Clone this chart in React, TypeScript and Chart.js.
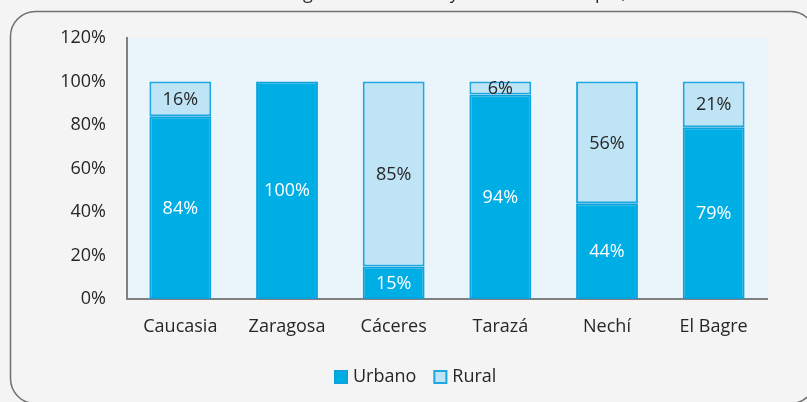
import React, { useEffect, useRef } from "react";
import { Chart, registerables } from "chart.js";

Chart.register(...registerables);

const categories = ["Caucasia", "Zaragosa", "Cáceres", "Tarazá", "Nechí", "El Bagre"];
const urbano = [84, 100, 15, 94, 44, 79];
const rural: (number | null)[] = [16, null, 85, 6, 56, 21];
const seriesNames = ["Urbano", "Rural"];
const yMin = 0;
const yMax = 120;
const yStep = 20;
const titleText = "Habitantes según zona urbana y rural del municipio, 2020";

const FONT = "'Open Sans', 'Noto Sans', sans-serif";
const URB_FILL = "#00aee6";
const URB_BORDER = "#0ea2dc";
const RUR_FILL = "#bee4f6";
const RUR_BORDER = "#1ea8e2";
const TEXT = "#262626";

const backgroundPlugin = {
  id: "bgBox",
  beforeDraw(chart: any) {
    const { ctx, width, height, chartArea } = chart;
    ctx.save();
    ctx.fillStyle = "#f4f4f4";
    ctx.fillRect(0, 0, width, height);
    // rounded frame
    const x = 10.5, y = 11.5, w = 805, h = 392, r = 25;
    ctx.beginPath();
    ctx.moveTo(x + r, y);
    ctx.lineTo(x + w - r, y);
    ctx.arcTo(x + w, y, x + w, y + r, r);
    ctx.lineTo(x + w, y + h - r);
    ctx.arcTo(x + w, y + h, x + w - r, y + h, r);
    ctx.lineTo(x + r, y + h);
    ctx.arcTo(x, y + h, x, y + h - r, r);
    ctx.lineTo(x, y + r);
    ctx.arcTo(x, y, x + r, y, r);
    ctx.closePath();
    ctx.strokeStyle = "#6f6f6f";
    ctx.lineWidth = 1.5;
    ctx.stroke();
    // title (clipped at top edge)
    ctx.font = `18px ${FONT}`;
    ctx.fillStyle = TEXT;
    ctx.textAlign = "left";
    ctx.textBaseline = "alphabetic";
    const gi = titleText.indexOf("g");
    const pre = ctx.measureText(titleText.slice(0, gi)).width;
    ctx.fillText(titleText, 303 - pre, -1.5);
    // plot background
    ctx.fillStyle = "#eaf4fb";
    ctx.fillRect(chartArea.left, chartArea.top, chartArea.right - chartArea.left + 1, chartArea.bottom - chartArea.top);
    ctx.restore();
  },
};

const labelPlugin = {
  id: "segLabels",
  afterDatasetsDraw(chart: any) {
    const { ctx } = chart;
    ctx.save();
    ctx.font = `18px ${FONT}`;
    ctx.textAlign = "center";
    ctx.textBaseline = "middle";
    chart.data.datasets.forEach((ds: any, di: number) => {
      const meta = chart.getDatasetMeta(di);
      meta.data.forEach((el: any, i: number) => {
        const v = ds.data[i];
        if (v === null || v === undefined || v === 0) return;
        ctx.fillStyle = di === 0 ? "#ffffff" : TEXT;
        ctx.fillText(`${v}%`, el.x, (el.y + el.base) / 2 + 1);
      });
    });
    ctx.restore();
  },
};

const legendPlugin = {
  id: "customLegend",
  afterDraw(chart: any) {
    const { ctx } = chart;
    ctx.save();
    ctx.font = `18px ${FONT}`;
    ctx.textAlign = "left";
    ctx.textBaseline = "middle";
    let x = 334;
    const cy = 377;
    chart.data.datasets.forEach((ds: any, di: number) => {
      ctx.fillStyle = ds.backgroundColor;
      ctx.fillRect(x, cy - 7, 14, 14);
      ctx.strokeStyle = ds.borderColor;
      ctx.lineWidth = 2;
      ctx.strokeRect(x + 1, cy - 6, 12, 12);
      ctx.fillStyle = TEXT;
      ctx.fillText(ds.label, x + 19, cy);
      x += 19 + ctx.measureText(ds.label).width + 17;
    });
    ctx.restore();
  },
};

export default function App() {
  const ref = useRef<HTMLCanvasElement>(null);
  useEffect(() => {
    if (!ref.current) return;
    const chart = new Chart(ref.current, {
      type: "bar",
      data: {
        labels: categories,
        datasets: [
          {
            label: seriesNames[0],
            data: urbano,
            backgroundColor: URB_FILL,
            borderColor: URB_BORDER,
            borderWidth: 2,
            borderSkipped: false,
            barPercentage: 0.58,
            categoryPercentage: 1,
          },
          {
            label: seriesNames[1],
            data: rural,
            backgroundColor: RUR_FILL,
            borderColor: RUR_BORDER,
            borderWidth: 2,
            borderSkipped: false,
            barPercentage: 0.58,
            categoryPercentage: 1,
          },
        ],
      },
      options: {
        responsive: false,
        animation: false,
        devicePixelRatio: 1,
        layout: { padding: { left: 0, top: 38, right: 40, bottom: 0 } },
        plugins: { legend: { display: false }, tooltip: { enabled: false }, title: { display: false } },
        scales: {
          x: {
            stacked: true,
            grid: { display: false, drawTicks: false },
            border: { display: true, color: "#808080", width: 2 },
            ticks: { color: TEXT, font: { family: FONT, size: 18 }, padding: 17, maxRotation: 0 },
            afterFit(s: any) {
              s.height = 103;
            },
          },
          y: {
            stacked: true,
            min: yMin,
            max: yMax,
            grid: { display: false, drawTicks: false },
            border: { display: true, color: "#808080", width: 2 },
            ticks: {
              stepSize: yStep,
              color: TEXT,
              font: { family: FONT, size: 18 },
              padding: 21,
              callback: (v: any) => `${v}%`,
            },
            afterFit(s: any) {
              s.width = 127;
            },
          },
        },
      },
      plugins: [backgroundPlugin, labelPlugin, legendPlugin],
    } as any);
    return () => chart.destroy();
  }, []);
  return (
    <canvas
      ref={ref}
      width={807}
      height={402}
      style={{ position: "fixed", left: 0, top: 0, width: 807, height: 402, display: "block" }}
    />
  );
}
